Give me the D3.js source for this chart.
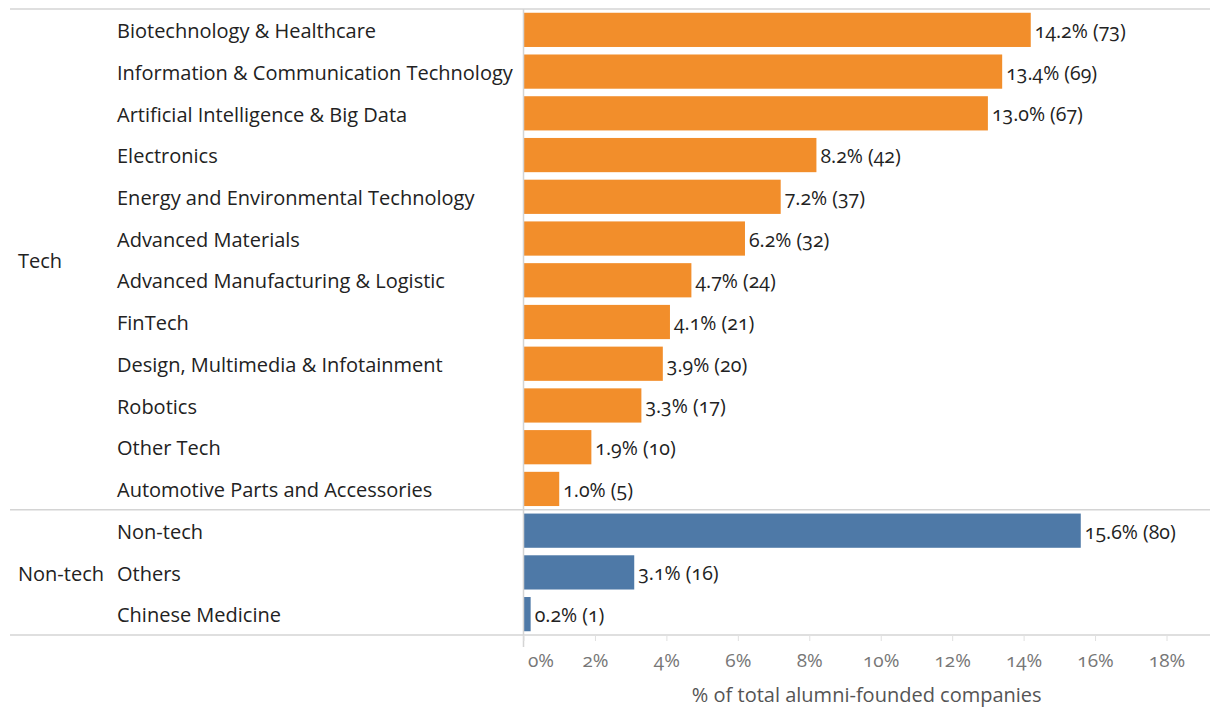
<!DOCTYPE html>
<html><head><meta charset="utf-8">
<script src="https://cdn.jsdelivr.net/npm/d3@7"></script>
<style>
body{margin:0;background:#fff;}
svg{display:block;font-family:"Open Sans",sans-serif;font-variant-numeric:oldstyle-nums;}
</style></head>
<body><svg id="c" width="1210" height="709"></svg>
<script>
const groups = ["Tech","Non-tech"];
const categories = ["Biotechnology & Healthcare","Information & Communication Technology","Artificial Intelligence & Big Data","Electronics","Energy and Environmental Technology","Advanced Materials","Advanced Manufacturing & Logistic","FinTech","Design, Multimedia & Infotainment","Robotics","Other Tech","Automotive Parts and Accessories","Non-tech","Others","Chinese Medicine"];
const categoryGroup = ["Tech","Tech","Tech","Tech","Tech","Tech","Tech","Tech","Tech","Tech","Tech","Tech","Non-tech","Non-tech","Non-tech"];
const percentages = [14.2,13.4,13.0,8.2,7.2,6.2,4.7,4.1,3.9,3.3,1.9,1.0,15.6,3.1,0.2];
const counts = [73,69,67,42,37,32,24,21,20,17,10,5,80,16,1];
const tickValues = [0,2,4,6,8,10,12,14,16,18];
const axisTitle = "% of total alumni-founded companies";

(function(){
const colors = {"Tech":"#f28e2b","Non-tech":"#4e79a7"};
const svg = d3.select("#c");
const pLeft = 523.5, pRight = 1166.5, pTop = 9, pBottom = 635;
const x = d3.scaleLinear().domain([0,18]).range([pLeft,pRight]);
const y = d3.scaleBand().domain(categories).range([pTop,pBottom]).paddingInner(0.18).paddingOuter(0.09);

const data = categories.map((c,i)=>({c,g:categoryGroup[i],p:percentages[i],n:counts[i]}));

svg.selectAll("rect.bar").data(data).enter().append("rect")
  .attr("x",x(0)).attr("y",d=>y(d.c)).attr("width",d=>x(d.p)-x(0)).attr("height",y.bandwidth())
  .attr("fill",d=>colors[d.g]);

svg.selectAll("text.val").data(data).enter().append("text")
  .attr("x",d=>x(d.p)+4).attr("y",d=>y(d.c)+y.bandwidth()/2+1).attr("dy","0.36em")
  .attr("font-size",19.5).attr("fill","#222")
  .text(d=>d.p.toFixed(1)+"% ("+d.n+")");

svg.selectAll("text.cat").data(data).enter().append("text")
  .attr("x",117).attr("y",d=>y(d.c)+y.bandwidth()/2+1).attr("dy","0.36em")
  .attr("font-size",20).attr("fill","#222").text(d=>d.c);

const rowTop = i => pTop + i*(pBottom-pTop)/categories.length;
const lines = [pTop];
groups.forEach(g=>{
  const idx = categories.map((c,i)=>i).filter(i=>categoryGroup[i]===g);
  const y0 = rowTop(idx[0]), y1 = rowTop(idx[idx.length-1]+1);
  lines.push(y1);
  svg.append("text").attr("x",18).attr("y",(y0+y1)/2+1).attr("dy","0.36em")
    .attr("font-size",20).attr("fill","#222").text(g);
});
svg.selectAll("line.h").data(lines).enter().append("line")
  .attr("x1",10).attr("x2",1210).attr("y1",d=>d).attr("y2",d=>d)
  .attr("stroke","#d4d4d4").attr("stroke-width",1.5);
svg.append("line").attr("x1",pLeft).attr("x2",pLeft).attr("y1",pTop).attr("y2",647)
  .attr("stroke","#d4d4d4").attr("stroke-width",1.5);

const ax = svg.append("g").attr("transform",`translate(0,${pBottom})`)
  .call(d3.axisBottom(x).tickValues(tickValues).tickSize(6).tickFormat(d=>d+"%"));
ax.select(".domain").remove();
ax.selectAll(".tick line").attr("stroke","#e0e0e0");
ax.selectAll(".tick text").attr("font-size",19).attr("fill","#777").attr("y",19)
  .attr("font-family","Open Sans").attr("dy","0.71em");
ax.selectAll(".tick text").filter(d=>d===0).attr("text-anchor","start").attr("dx",4);

svg.append("text").attr("x",(pLeft+1210)/2).attr("y",702).attr("text-anchor","middle")
  .attr("font-size",20).attr("fill","#555").text(axisTitle);
})();
</script></body></html>
